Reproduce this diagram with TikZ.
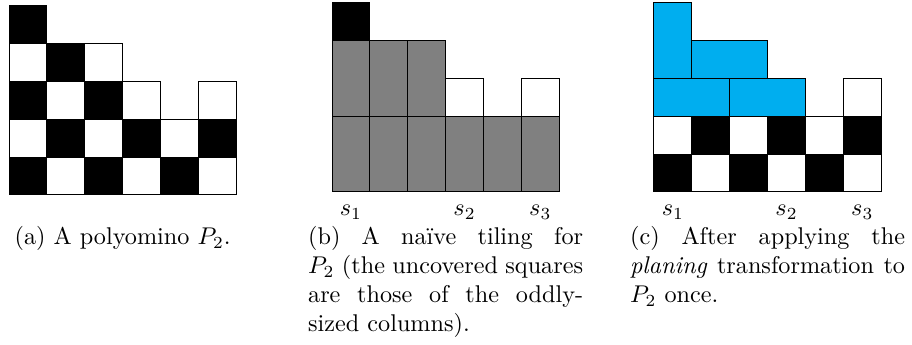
\documentclass[tikz,border=0pt]{standalone}
\usepackage{tikz}
\usetikzlibrary{positioning}
\definecolor{planing}{HTML}{00AEEF}
\definecolor{naive}{gray}{0.5}

\begin{document}
\begin{tikzpicture}[x=0.55cm, y=0.55cm,
    sq/.style={draw=black, line width=0.4pt},
    slab/.style={inner sep=0pt, anchor=base},
    capt/.style={text width=113.6pt, align=justify, inner sep=0pt, anchor=north}]
  \useasboundingbox (0,0) rectangle (24.078,9.107);

  % (a) Polyomino als Schachbrett
  \begin{scope}[shift={(0.238,3.96)}]
    \foreach \c/\h in {1/5, 2/4, 3/4, 4/3, 5/2, 6/3}
      \foreach \r in {1,...,\h} {
        \pgfmathtruncatemacro\odd{mod(\c+\r,2)}
        \ifnum\odd=0 \def\tone{black}\else\def\tone{white}\fi
        \filldraw[sq, fill=\tone] (\c-1,\r-1) rectangle (\c,\r);
      }
  \end{scope}
  \node[capt, align=center] (cap-a) at (3.238,3.146) {(a) A polyomino $P_2$.};

  % (b) naive Pflasterung mit senkrechten Dominos
  \begin{scope}[shift={(8.765,4.04)}]
    \foreach \c in {1,...,6}
      \filldraw[sq, fill=naive] (\c-1,0) rectangle (\c,2);
    \foreach \c in {1,2,3}
      \filldraw[sq, fill=naive] (\c-1,2) rectangle (\c,4);
    \filldraw[sq, fill=black] (0,4) rectangle (1,5);
    \foreach \c in {4,6}
      \draw[sq] (\c-1,2) rectangle (\c,3);
    \foreach \i/\c in {1/1, 2/4, 3/6}
      \node[slab] (b-s\i) at (\c-0.5,-0.622) {$s_\i$};
  \end{scope}
  \node[capt] (cap-b) at (11.765,3.146)
    {(b) A na\"{\i}ve tiling for $P_2$ (the uncovered squares are those of the oddly-sized columns).};

  % (c) nach dem Hobeln
  \begin{scope}[shift={(17.265,4.04)}]
    \foreach \c in {1,...,6}
      \foreach \r in {1,2} {
        \pgfmathtruncatemacro\odd{mod(\c+\r,2)}
        \ifnum\odd=0 \def\tone{black}\else\def\tone{white}\fi
        \filldraw[sq, fill=\tone] (\c-1,\r-1) rectangle (\c,\r);
      }
    \draw[sq] (5,2) rectangle (6,3);
    \foreach \a/\b in {{0,2}/{2,3}, {2,2}/{4,3}, {1,3}/{3,4}, {0,3}/{1,5}}
      \filldraw[sq, fill=planing] (\a) rectangle (\b);
    \foreach \i/\c in {1/1, 2/4, 3/6}
      \node[slab] (c-s\i) at (\c-0.5,-0.622) {$s_\i$};
  \end{scope}
  \node[capt] (cap-c) at (20.265,3.146)
    {(c) After applying the \emph{planing} transformation to $P_2$ once.};
\end{tikzpicture}
\end{document}
